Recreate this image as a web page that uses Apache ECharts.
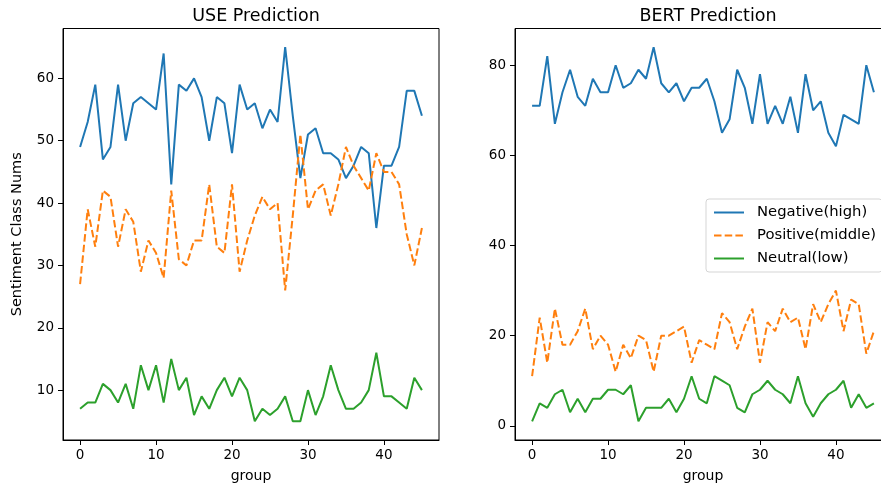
<!DOCTYPE html>
<html>
<head>
<meta charset="utf-8">
<script src="https://cdn.jsdelivr.net/npm/echarts@6/dist/echarts.min.js"></script>
<style>
    html, body { margin: 0; padding: 0; background: #fff; }
    #chart { width: 881px; height: 490px; }
</style>
</head>
<body>
<div id="chart"></div>
<script>
// data
const groups = [0,1,2,3,4,5,6,7,8,9,10,11,12,13,14,15,16,17,18,19,20,21,22,
    23,24,25,26,27,28,29,30,31,32,33,34,35,36,37,38,39,40,41,42,43,44,45];

const useNegative = [49,53,59,47,49,59,50,56,57,56,55,64,43,59,58,60,57,50,57,56,48,59,55,
    56,52,55,53,65,54,44,51,52,48,48,47,44,46,49,48,36,46,46,49,58,58,54];
const usePositive = [27,39,33,42,41,33,39,37,29,34,32,28,42,31,30,34,34,43,33,32,43,29,34,
    38,41,39,40,26,38,51,39,42,43,38,43,49,46,44,42,48,45,45,43,35,30,36];
const useNeutral = [7,8,8,11,10,8,11,7,14,10,14,8,15,10,12,6,9,7,10,12,9,12,10,
    5,7,6,7,9,5,5,10,6,9,14,10,7,7,8,10,16,9,9,8,7,12,10];

const bertNegative = [71,71,82,67,74,79,73,71,77,74,74,80,75,76,79,77,84,76,74,76,72,75,75,
    77,72,65,68,79,75,67,78,67,71,67,73,65,78,70,72,65,62,69,68,67,80,74];
const bertPositive = [11,24,14,26,18,18,21,26,17,20,18,12,18,15,20,19,12,20,20,21,22,14,19,
    18,17,25,23,17,22,26,14,23,21,26,23,24,17,27,23,27,30,21,28,27,16,21];
const bertNeutral = [1,5,4,7,8,3,6,3,6,6,8,8,7,9,1,4,4,4,6,3,6,11,6,
    5,11,10,9,4,3,7,8,10,8,7,5,11,5,2,5,7,8,10,4,7,4,5];

const xTicks = [0, 10, 20, 30, 40];
const useTicks = [10, 20, 30, 40, 50, 60];
const bertTicks = [0, 20, 40, 60, 80];

const FONT = 'DejaVu Sans';
const BLUE = '#1f77b4', ORANGE = '#ff7f0e', GREEN = '#2ca02c';

const chart = echarts.init(document.getElementById('chart'));

function pairs(values) {
    return values.map((v, i) => [groups[i], v]);
}

function xAxisFor(gridIndex) {
    return {
        type: 'value', gridIndex: gridIndex,
        min: -2.25, max: 47.25,
        name: 'group', nameLocation: 'middle', nameGap: 29,
        nameTextStyle: { color: '#000', fontSize: 14, fontFamily: FONT },
        axisLine: { show: true, onZero: false, lineStyle: { color: '#000', width: 1 } },
        axisTick: { show: true, length: 5, customValues: xTicks, lineStyle: { color: '#000' } },
        axisLabel: { customValues: xTicks, color: '#000', fontSize: 13.5, margin: 8, fontFamily: FONT },
        splitLine: { show: false }
    };
}

function yAxisFor(gridIndex, min, max, ticks, name) {
    return {
        type: 'value', gridIndex: gridIndex,
        min: min, max: max,
        name: name, nameLocation: 'middle', nameGap: 38, nameRotate: 90,
        nameTextStyle: { color: '#000', fontSize: 14.5, fontFamily: FONT },
        axisLine: { show: true, onZero: false, lineStyle: { color: '#000', width: 1 } },
        axisTick: { show: true, length: 5, customValues: ticks, lineStyle: { color: '#000' } },
        axisLabel: { customValues: ticks, color: '#000', fontSize: 13.5, margin: 9, fontFamily: FONT },
        splitLine: { show: false }
    };
}

function lineSeries(name, idx, values, color, dashed) {
    return {
        name: name, type: 'line',
        xAxisIndex: idx, yAxisIndex: idx,
        data: pairs(values),
        symbol: 'none',
        itemStyle: { color: color },
        lineStyle: { color: color, width: 2, type: dashed ? [7.5, 3.2] : 'solid' },
        animation: false
    };
}

const titleStyle = { color: '#000', fontSize: 17.5, fontWeight: 'normal', fontFamily: FONT };

const options = {
    backgroundColor: '#fff',
    animation: false,
    title: [
        { text: 'USE Prediction', left: 251, top: 2, textAlign: 'center', textStyle: titleStyle },
        { text: 'BERT Prediction', left: 703, top: 2, textAlign: 'center', textStyle: titleStyle }
    ],
    legend: {
        data: ['Negative(high)', 'Positive(middle)', 'Neutral(low)'],
        orient: 'vertical',
        left: 706, top: 199,
        itemWidth: 30, itemHeight: 14, itemGap: 8,
        itemStyle: { opacity: 0 },
        padding: [6, 6, 6, 7],
        backgroundColor: 'rgba(255,255,255,0.8)',
        borderColor: '#d5d5d5', borderWidth: 1, borderRadius: 3,
        textStyle: { color: '#000', fontSize: 14.8, fontFamily: FONT, padding: [0, 0, 0, 8] }
    },
    grid: [
        { left: 63, top: 28.5, width: 376, height: 411.5, show: true, borderColor: '#000', borderWidth: 1,
          backgroundColor: 'transparent', outerBoundsMode: 'none' },
        { left: 515, top: 28.5, width: 376, height: 411.5, show: true, borderColor: '#000', borderWidth: 1,
          backgroundColor: 'transparent', outerBoundsMode: 'none' }
    ],
    xAxis: [xAxisFor(0), xAxisFor(1)],
    yAxis: [
        yAxisFor(0, 2, 68, useTicks, 'Sentiment Class Nums'),
        yAxisFor(1, -3.15, 88.15, bertTicks, '')
    ],
    series: [
        lineSeries('Negative(high)', 0, useNegative, BLUE, false),
        lineSeries('Positive(middle)', 0, usePositive, ORANGE, true),
        lineSeries('Neutral(low)', 0, useNeutral, GREEN, false),
        lineSeries('Negative(high)', 1, bertNegative, BLUE, false),
        lineSeries('Positive(middle)', 1, bertPositive, ORANGE, true),
        lineSeries('Neutral(low)', 1, bertNeutral, GREEN, false)
    ]
};

chart.setOption(options);
</script>
</body>
</html>
